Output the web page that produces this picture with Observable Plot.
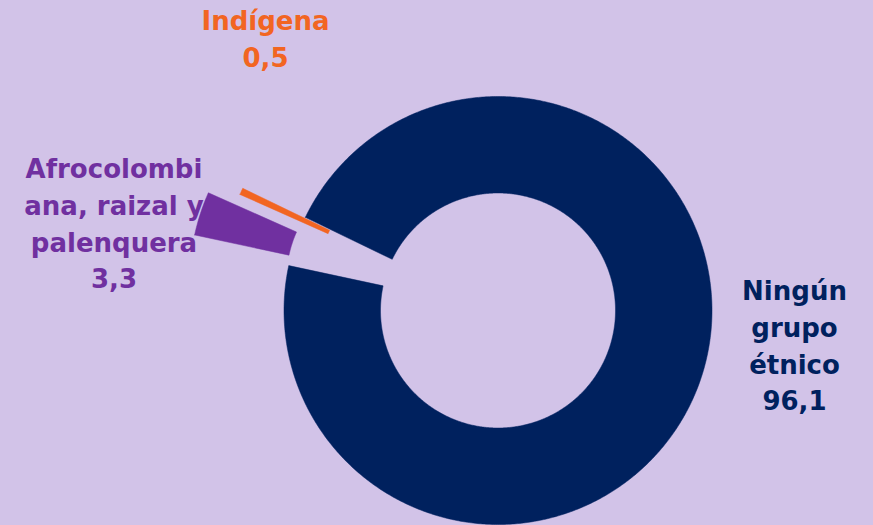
<!DOCTYPE html>
<html><head><meta charset="utf-8">
<script src="https://cdn.jsdelivr.net/npm/d3@7"></script>
<script src="https://cdn.jsdelivr.net/npm/@observablehq/plot@0.6"></script>
<style>html,body{margin:0;padding:0;background:#d2c3e8;overflow:hidden}</style>
</head><body><div id="chart"></div>
<script>
// ---- data ----
const categories = ["Ningún grupo étnico", "Afrocolombiana, raizal y palenquera", "Indígena"];
const values = [96.1, 3.3, 0.5];
const valueLabels = ["96,1", "3,3", "0,5"];
const labelLines = [["Ningún", "grupo", "étnico"], ["Afrocolombi", "ana, raizal y", "palenquera"], ["Indígena"]];
const colors = ["#00215e", "#7030a0", "#f26522"];

// ---- layout (not data) ----
const W = 873, H = 525;
const cx = 497.5, cy = 310;        // donut centre in px
const outerR = 214, innerR = 117.5;
const startDeg = -64.2;
const explode = {"Ningún grupo étnico": 0, "Afrocolombiana, raizal y palenquera": 99, "Indígena": 69};
const fontSize = 26, lineHeight = 1.41;
// first-line baselines (px) of each label block
const labelPos = {
  "Ningún grupo étnico": [794, 300],
  "Afrocolombiana, raizal y palenquera": [113.5, 178],
  "Indígena": [265, 30]
};
const topShift = 0.71 * lineHeight * fontSize;

const table = categories.map((c, i) => ({category: c, value: values[i], label: labelLines[i].concat(valueLabels[i]).join("\n")}));

const arcs = d3.pie().sort(null).value(d => d.value)
  .startAngle(startDeg * Math.PI / 180)
  .endAngle(startDeg * Math.PI / 180 + 2 * Math.PI)(table);

const pts = [];
for (const a of arcs) {
  const c = a.data.category;
  const m = (a.startAngle + a.endAngle) / 2;
  const d = explode[c];
  const ox = d * Math.sin(m), oy = d * Math.cos(m);
  const n = Math.max(2, Math.ceil((a.endAngle - a.startAngle) / (Math.PI / 360)));
  const ring = [];
  for (let k = 0; k <= n; k++) {
    const t = a.startAngle + (a.endAngle - a.startAngle) * k / n;
    ring.push([ox + outerR * Math.sin(t), oy + outerR * Math.cos(t)]);
  }
  for (let k = n; k >= 0; k--) {
    const t = a.startAngle + (a.endAngle - a.startAngle) * k / n;
    ring.push([ox + innerR * Math.sin(t), oy + innerR * Math.cos(t)]);
  }
  ring.push(ring[0]);
  ring.forEach(([x, y], j) => pts.push({category: c, x, y, j}));
}

const labels = table.map(d => ({...d, x: labelPos[d.category][0] - cx, y: cy - (labelPos[d.category][1] - topShift)}));

const chart = Plot.plot({
  width: W, height: H,
  margin: 0,
  x: {domain: [-cx, W - cx], axis: null},
  y: {domain: [cy - H, cy], axis: null},
  color: {domain: categories, range: colors},
  style: {background: "#d2c3e8", overflow: "visible"},
  marks: [
    Plot.line(pts, {x: "x", y: "y", z: "category", fill: "category", stroke: "category", strokeWidth: 0.5, curve: "linear"}),
    Plot.text(labels, {x: "x", y: "y", text: "label", fill: "category", textAnchor: "middle", lineAnchor: "top",
      lineHeight, fontSize, fontWeight: "bold", fontFamily: "'DejaVu Sans', sans-serif"})
  ]
});
document.getElementById("chart").appendChild(chart);
</script>
</body></html>
